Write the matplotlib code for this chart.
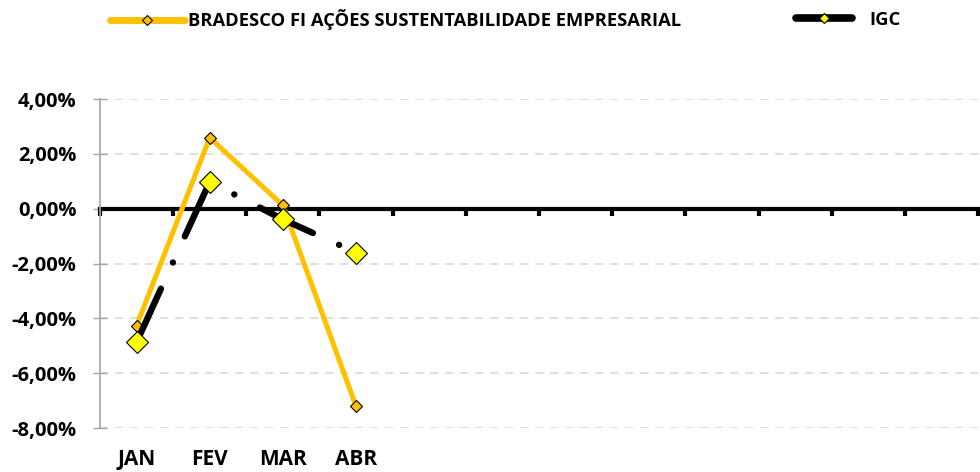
import matplotlib
matplotlib.use("Agg")
import matplotlib.pyplot as plt
from matplotlib.lines import Line2D

plt.rcParams["font.family"] = ["Open Sans", "DejaVu Sans"]
plt.rcParams["font.weight"] = "bold"

# 12 monthly slots, only the first four reported
months = ["JAN", "FEV", "MAR", "ABR"]
n_slots = 12
fund_name = "BRADESCO FI AÇÕES SUSTENTABILIDADE EMPRESARIAL"
fund = [-4.27, 2.59, 0.12, -7.21]
igc = [-4.87, 0.98, -0.39, -1.60]
yticks = [4, 2, 0, -2, -4, -6, -8]

ORANGE = "#FFC000"
YELLOW = "#FFFF00"
GREY = "#A6A6A6"

fig = plt.figure(figsize=(9.8, 4.72), dpi=100)
ax = fig.add_axes([0.102, 0.0932, 0.896, 0.697])

x = list(range(len(months)))
ax.plot(x, fund, color=ORANGE, lw=3.6, solid_capstyle="round", zorder=3,
        marker="D", ms=5.8, mfc=ORANGE, mec="black", mew=0.8)
ax.plot(x, igc, color="black", lw=4.6, dash_capstyle="round", zorder=4,
        dashes=(9.2, 4.5, 0.01, 4.5))
ax.plot(x, igc, ls="none", zorder=5,
        marker="D", ms=11.7, mfc=YELLOW, mec="black", mew=0.8)

ax.set_xlim(-0.5, n_slots - 0.5)
ax.set_ylim(-8, 4)

# y axis
ax.set_yticks(yticks)
ax.set_yticklabels([f"{v:.2f}%".replace(".", ",") for v in yticks],
                   fontsize=14.5, fontweight="bold")
ax.tick_params(axis="y", length=10, width=1, color=GREY, direction="inout",
               pad=12)
ax.yaxis.grid(True, color="#D9D9D9", ls=(0, (5, 4)), lw=1.2)
ax.set_axisbelow(True)

# zero line acts as the category axis
ax.spines["bottom"].set_position(("data", 0))
ax.spines["bottom"].set_linewidth(3)
ax.spines["bottom"].set_zorder(2)
ax.set_xticks([i - 0.5 for i in range(n_slots + 1)])
ax.set_xticklabels([])
ax.tick_params(axis="x", length=5, width=3, color="black", direction="out")
for i, m in enumerate(months):
    ax.text(i, -0.065, m, transform=ax.get_xaxis_transform(), ha="center",
            va="top", fontsize=15, fontweight="bold")

ax.spines["left"].set_color(GREY)
ax.spines["left"].set_linewidth(1.2)
for s in ("top", "right"):
    ax.spines[s].set_visible(False)

h_fund = Line2D([0], [0], color=ORANGE, lw=5, solid_capstyle="round",
                marker="D", ms=5, mfc=ORANGE, mec="black", mew=0.8)
h_igc = Line2D([0], [0], color="black", lw=5.5, solid_capstyle="round",
               marker="D", ms=5, mfc=YELLOW, mec="black", mew=0.8)
fig.legend([h_fund], [fund_name], loc="center left",
           bbox_to_anchor=(0.095, 0.958), frameon=False,
           handlelength=4.1, handletextpad=0.2,
           prop={"size": 13.2, "weight": "bold"})
fig.legend([h_igc], ["IGC"], loc="center left",
           bbox_to_anchor=(0.795, 0.958), frameon=False,
           handlelength=3.1, handletextpad=0.9,
           prop={"size": 13.2, "weight": "bold"})

fig.savefig("out.png", dpi=100)
